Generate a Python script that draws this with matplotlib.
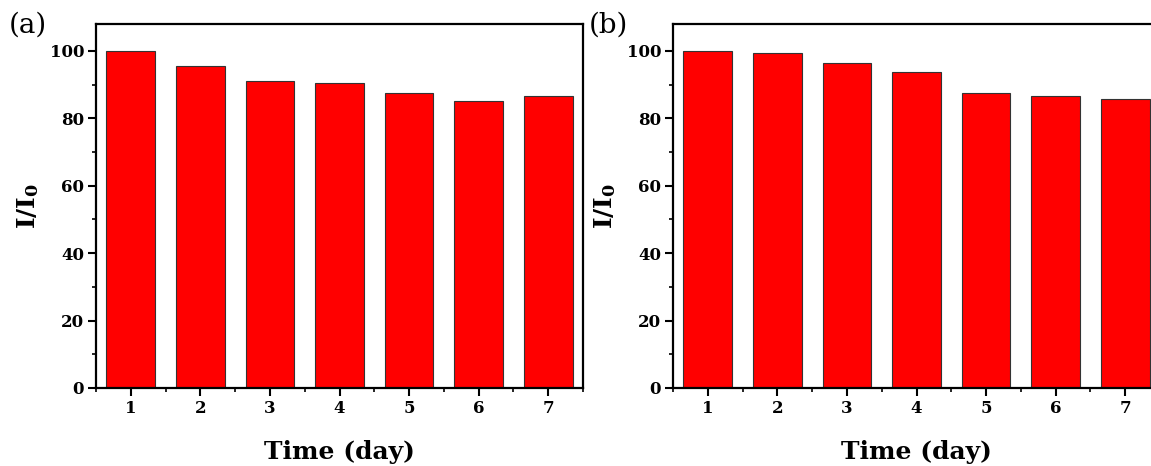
import matplotlib
matplotlib.use("Agg")
import matplotlib.pyplot as plt
from matplotlib.ticker import MultipleLocator

days = [1, 2, 3, 4, 5, 6, 7]
values_a = [100, 95.5, 91.0, 90.5, 87.6, 85.2, 86.6]
values_b = [100, 99.3, 96.3, 93.9, 87.4, 86.6, 85.8]
panel_labels = ["(a)", "(b)"]
y_ticks = [0, 20, 40, 60, 80, 100]

plt.rcParams['font.family'] = ['DejaVu Serif']
plt.rcParams['mathtext.fontset'] = 'dejavuserif'

W, H = 1151, 466
fig = plt.figure(figsize=(W / 100, H / 100), dpi=100)

def px_axes(left, top, right, bottom):
    return fig.add_axes([left / W, 1 - bottom / H, (right - left) / W, (bottom - top) / H])

ax_a = px_axes(96, 24, 583, 388)
ax_b = px_axes(673, 24, 1160, 388)

for ax, vals, lab, lx in [(ax_a, values_a, panel_labels[0], 28), (ax_b, values_b, panel_labels[1], 608)]:
    ax.bar(days, vals, width=0.7, color='#ff0000', edgecolor='#333333', linewidth=0.8)
    ax.set_xlim(0.5, 7.5)
    ax.set_ylim(0, 108)
    ax.set_xticks(days)
    ax.set_yticks(y_ticks)
    ax.xaxis.set_minor_locator(MultipleLocator(0.5))
    ax.yaxis.set_minor_locator(MultipleLocator(10))
    ax.tick_params(which='major', direction='out', length=5.5, width=1.5, labelsize=12, pad=3)
    ax.tick_params(which='minor', direction='out', length=3, width=1.2)
    ax.tick_params(top=False, right=False, which='both')
    for t in ax.get_xticklabels() + ax.get_yticklabels():
        t.set_fontweight('bold')
    for s in ax.spines.values():
        s.set_linewidth(1.6)
    ax.set_xlabel('Time (day)', fontsize=18, fontweight='bold', labelpad=17)
    ax.set_ylabel(r'$\mathbf{I/I_0}$', fontsize=18, labelpad=6)
    fig.text(lx / W, 1 - 25 / H, lab, fontsize=20, ha='center', va='center')

fig.savefig('out.png', dpi=100)
